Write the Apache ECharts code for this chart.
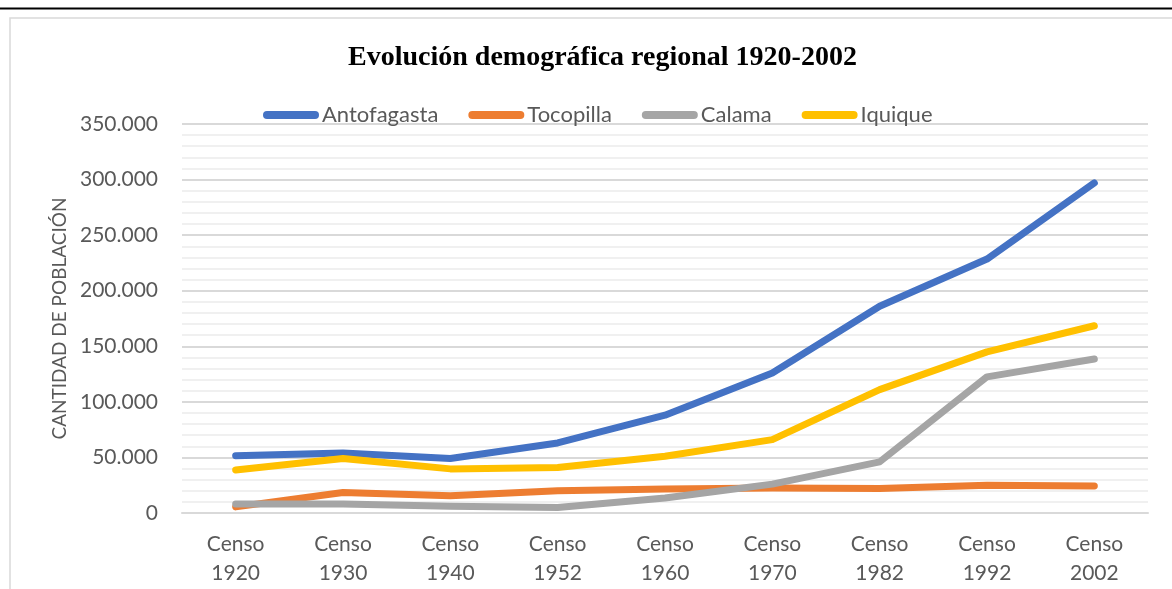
<!DOCTYPE html>
<html>
<head>
<meta charset="utf-8">
<script src="https://cdn.jsdelivr.net/npm/echarts@6/dist/echarts.min.js"></script>
<style>html,body{margin:0;padding:0;background:#fff;}#c{width:1172px;height:589px;}</style>
</head>
<body>
<div id="c"></div>
<script>
var categories = ['Censo\n1920','Censo\n1930','Censo\n1940','Censo\n1952','Censo\n1960','Censo\n1970','Censo\n1982','Censo\n1992','Censo\n2002'];
var antofagasta = [51500, 54000, 49000, 63000, 88000, 126000, 186000, 228500, 297000];
var tocopilla   = [5500, 18500, 15500, 20000, 21700, 22500, 22000, 25000, 24300];
var calama      = [8000, 8000, 6000, 5000, 13500, 26000, 46000, 122500, 138500];
var iquique     = [38700, 49000, 39700, 41000, 51000, 66000, 111000, 145000, 168500];
var yTicks = [0, 50000, 100000, 150000, 200000, 250000, 300000, 350000];

var chart = echarts.init(document.getElementById('c'));
var font = 'Lato';
var capsule = 'path://M4,0 L52,0 A4,4 0 0 1 52,8 L4,8 A4,4 0 0 1 4,0 Z';
function mk(name, data, color){
  return {name:name, type:'line', data:data, symbol:'none', smooth:false,
    lineStyle:{width:7, color:color, cap:'round', join:'round'}, itemStyle:{color:color}};
}
chart.setOption({
  animation:false,
  title:{text:'Evolución demográfica regional 1920-2002', left:343, top:39,
    textStyle:{fontFamily:'Liberation Serif', fontWeight:'bold', fontSize:28, color:'#000'}},
  legend:{top:99, left:258, itemWidth:56, itemHeight:8, itemGap:30,
    icon:capsule,
    textStyle:{fontFamily:font, fontSize:22, color:'#595959', padding:[0,0,0,-2]},
    data:['Antofagasta','Tocopilla','Calama','Iquique']},
  grid:{left:182, right:24, top:124, bottom:76, containLabel:false},
  xAxis:{type:'category', data:categories, boundaryGap:true,
    axisLine:{lineStyle:{color:'#D9D9D9', width:2}}, axisTick:{show:false},
    axisLabel:{fontFamily:font, fontSize:21, color:'#595959', lineHeight:29, margin:17}},
  yAxis:{type:'value', min:0, max:350000, interval:50000,
    name:'CANTIDAD DE POBLACIÓN', nameLocation:'middle', nameGap:111, nameRotate:90,
    nameTextStyle:{fontFamily:font, fontSize:19, color:'#595959'},
    axisLine:{show:false}, axisTick:{show:false},
    axisLabel:{fontFamily:font, fontSize:21, color:'#595959', margin:24,
      formatter:function(v){ return yTicks.indexOf(v) >= 0 ? v.toLocaleString('de-DE') : ''; }},
    splitLine:{lineStyle:{color:'#D9D9D9', width:2}},
    minorTick:{show:false, splitNumber:5},
    minorSplitLine:{show:true, lineStyle:{color:'#F0F0F0', width:2}}},
  graphic:[
    {type:'line', shape:{x1:0,y1:8.5,x2:1172,y2:8.5}, style:{stroke:'#000', lineWidth:2}, silent:true},
    {type:'rect', shape:{x:10,y:18,width:1200,height:600}, style:{fill:null, stroke:'#D9D9D9', lineWidth:1.5}, silent:true, z:-1}
  ],
  series:[mk('Antofagasta',antofagasta,'#4472C4'), mk('Tocopilla',tocopilla,'#ED7D31'), mk('Calama',calama,'#A5A5A5'), mk('Iquique',iquique,'#FFC000')]
});
</script>
</body>
</html>
